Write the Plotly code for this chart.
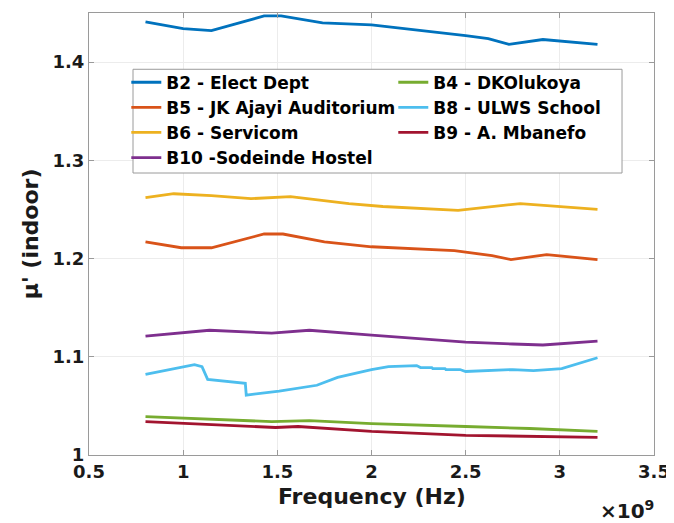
import plotly.graph_objects as go

# Frequency in units of 1e9 Hz (axis shows x10^9 multiplier)
b2_f = [0.80, 1.00, 1.15, 1.30, 1.43, 1.52, 1.74, 2.00, 2.24, 2.50, 2.62, 2.73, 2.91, 3.20]
b2_mu = [1.441, 1.434, 1.432, 1.440, 1.447, 1.447, 1.440, 1.438, 1.433, 1.427, 1.424, 1.418, 1.423, 1.418]

b5_f = [0.80, 0.99, 1.15, 1.43, 1.53, 1.75, 2.00, 2.44, 2.64, 2.74, 2.93, 3.20]
b5_mu = [1.217, 1.211, 1.211, 1.225, 1.225, 1.217, 1.212, 1.208, 1.203, 1.199, 1.204, 1.199]

b6_f = [0.80, 0.95, 1.15, 1.36, 1.57, 1.74, 1.88, 2.06, 2.24, 2.46, 2.79, 3.20]
b6_mu = [1.262, 1.266, 1.264, 1.261, 1.263, 1.259, 1.256, 1.253, 1.251, 1.249, 1.256, 1.250]

b10_f = [0.80, 1.14, 1.47, 1.67, 2.00, 2.26, 2.50, 2.75, 2.91, 3.20]
b10_mu = [1.121, 1.127, 1.124, 1.127, 1.122, 1.118, 1.115, 1.113, 1.112, 1.116]

b4_f = [0.80, 1.47, 1.67, 2.00, 2.50, 2.84, 3.20]
b4_mu = [1.039, 1.034, 1.035, 1.032, 1.029, 1.027, 1.024]

b8_f = [0.80, 1.06, 1.10, 1.13, 1.33, 1.335, 1.51, 1.71, 1.82, 2.00, 2.09, 2.24,
        2.26, 2.32, 2.325, 2.39, 2.395, 2.47, 2.50, 2.75, 2.86, 3.01, 3.20]
b8_mu = [1.082, 1.092, 1.090, 1.077, 1.073, 1.061, 1.065, 1.071, 1.079, 1.087, 1.090, 1.091,
         1.089, 1.089, 1.088, 1.088, 1.087, 1.087, 1.085, 1.087, 1.086, 1.088, 1.099]

b9_f = [0.80, 1.49, 1.61, 2.00, 2.50, 3.20]
b9_mu = [1.034, 1.028, 1.029, 1.024, 1.020, 1.018]

# legend order (row-major, two columns)
series = [
    ("B2 - Elect Dept", b2_f, b2_mu, "#0072BD"),
    ("B4 - DKOlukoya", b4_f, b4_mu, "#77AC30"),
    ("B5 - JK Ajayi Auditorium", b5_f, b5_mu, "#D95319"),
    ("B8 - ULWS School", b8_f, b8_mu, "#4DBEEE"),
    ("B6 - Servicom", b6_f, b6_mu, "#EDB120"),
    ("B9 - A. Mbanefo", b9_f, b9_mu, "#A2142F"),
    ("B10 -Sodeinde Hostel", b10_f, b10_mu, "#7E2F8E"),
]

FONT = "DejaVu Sans"
fig = go.Figure()
for name, f, mu, c in series:
    fig.add_trace(go.Scatter(x=f, y=mu, mode="lines", name=name,
                             line=dict(color=c, width=2.8)))

axis_common = dict(
    showline=True, linecolor="#9a9a9a", linewidth=1, mirror="ticks",
    ticks="inside", ticklen=5, tickcolor="#9a9a9a",
    showgrid=True, gridcolor="#ececec", gridwidth=1, zeroline=False,
    tickfont=dict(family=FONT, size=18, color="#1a1a1a", weight="bold"),
)

fig.update_xaxes(range=[0.5, 3.5], dtick=0.5, tick0=0.5, **axis_common)
fig.update_yaxes(range=[1.0, 1.45], dtick=0.1, tick0=1.0, **axis_common)

# legend frame (white box with grey border) drawn as a shape behind the legend
fig.add_shape(type="rect", xref="paper", yref="paper",
              x0=0.0779, x1=0.9434, y0=0.638, y1=0.8727,
              line=dict(color="#9a9a9a", width=1), fillcolor="white", layer="above")

# page body has an 8px margin, so the figure is sized/offset to compensate
fig.update_layout(
    width=666, height=515,
    margin=dict(l=81, r=20, t=5, b=68),
    paper_bgcolor="white", plot_bgcolor="white",
    showlegend=True,
    legend=dict(
        x=0.066, y=0.883, xanchor="left", yanchor="top",
        orientation="h", entrywidth=222, itemwidth=30,
        bgcolor="rgba(0,0,0,0)", borderwidth=0,
        font=dict(family=FONT, size=17, color="#000000", weight="bold"),
        tracegroupgap=0,
    ),
    annotations=[
        dict(text="Frequency (Hz)", xref="paper", yref="paper", x=0.5, y=-0.094,
             xanchor="center", yanchor="middle", showarrow=False,
             font=dict(family=FONT, size=22, color="#1a1a1a", weight="bold")),
        dict(text="μ' (indoor)", xref="paper", yref="paper", x=-0.104, y=0.5,
             xanchor="center", yanchor="middle", showarrow=False, textangle=-90,
             font=dict(family=FONT, size=22, color="#1a1a1a", weight="bold")),
        dict(text="×10<sup>9</sup>", xref="paper", yref="paper", x=0.952, y=-0.125,
             xanchor="center", yanchor="middle", showarrow=False,
             font=dict(family=FONT, size=20, color="#1a1a1a", weight="bold")),
    ],
)

fig.write_html("out.html")
